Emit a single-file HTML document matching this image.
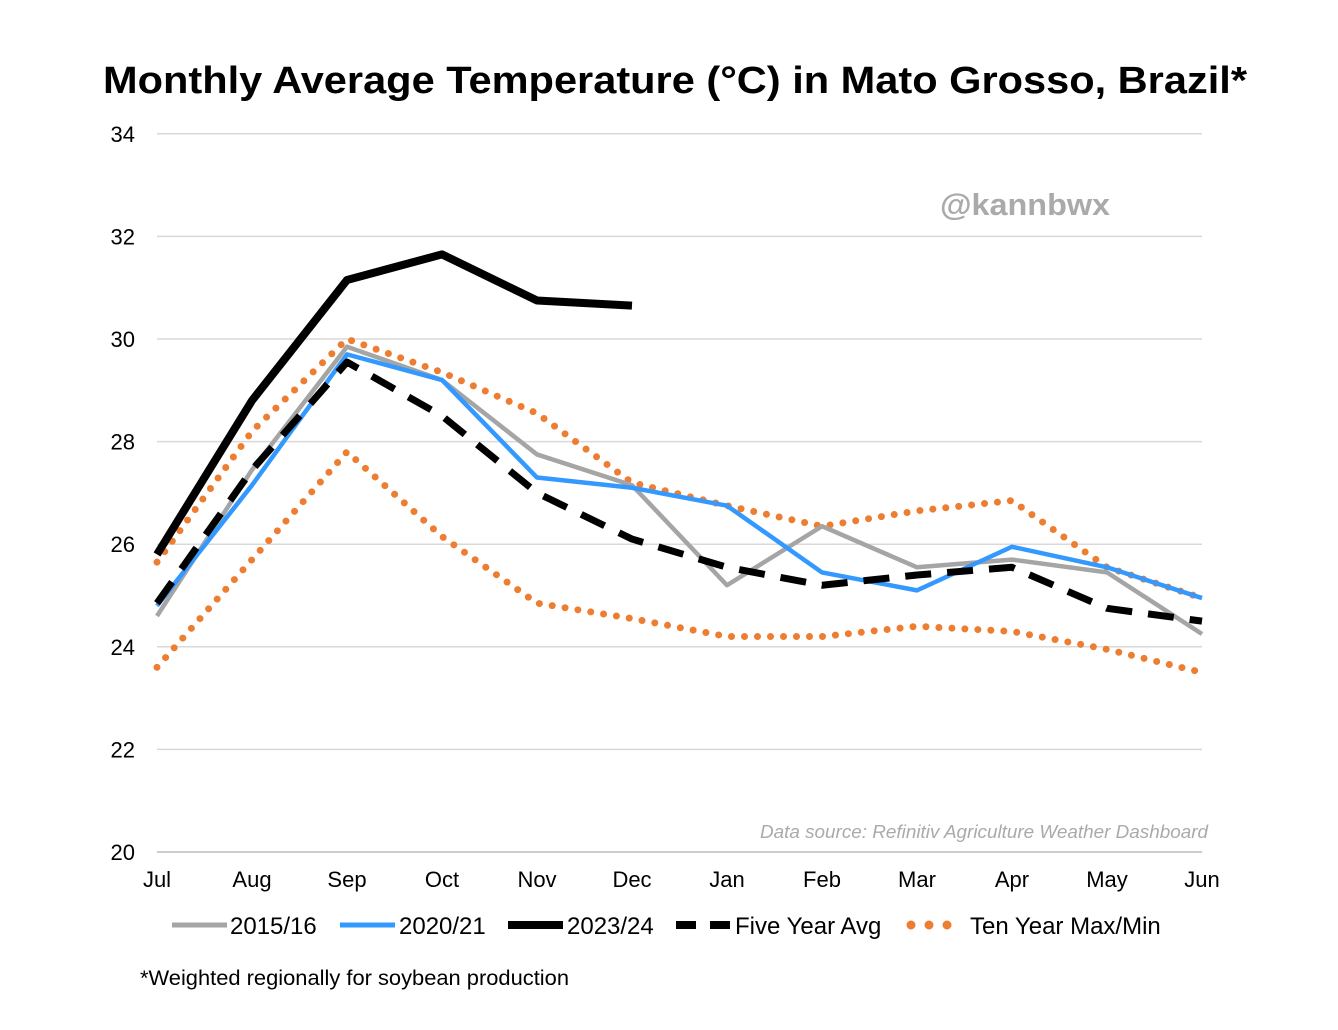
<!DOCTYPE html>
<html><head><meta charset="utf-8"><style>
body{margin:0;background:#fff;font-family:"Liberation Sans",Arial,sans-serif}
svg text{font-family:"Liberation Sans",Arial,sans-serif}
</style></head><body>
<svg id="chart" width="1338" height="1025" xmlns="http://www.w3.org/2000/svg">
<rect width="1338" height="1025" fill="#fff"/>
<text x="103" y="93" font-size="38" font-weight="bold" textLength="1144" lengthAdjust="spacingAndGlyphs">Monthly Average Temperature (°C) in Mato Grosso, Brazil*</text>
<text x="940" y="215" font-size="31" font-weight="bold" fill="#aaa" textLength="170" lengthAdjust="spacingAndGlyphs">@kannbwx</text>
<text x="760" y="838" font-size="18" font-style="italic" fill="#aaa" textLength="448" lengthAdjust="spacingAndGlyphs">Data source: Refinitiv Agriculture Weather Dashboard</text>
<text x="140" y="985" font-size="21" textLength="429" lengthAdjust="spacingAndGlyphs">*Weighted regionally  for soybean production</text>
<g id="grid"></g><g id="series"></g><g id="legend"></g>
</svg>
<script>
const months=["Jul","Aug","Sep","Oct","Nov","Dec","Jan","Feb","Mar","Apr","May","Jun"];
const yTicks=[20,22,24,26,28,30,32,34];
const s2015=[24.6,27.45,29.85,29.2,27.75,27.15,25.2,26.35,25.55,25.7,25.45,24.25];
const s2020=[24.8,27.15,29.7,29.2,27.3,27.1,26.75,25.45,25.1,25.95,25.55,24.95];
const s2023=[25.8,28.8,31.15,31.65,30.75,30.65];
const s5yr=[24.85,27.45,29.55,28.5,27.0,26.1,25.55,25.2,25.4,25.55,24.75,24.5];
const sMax=[25.65,28.2,30.0,29.35,28.55,27.2,26.75,26.35,26.65,26.85,25.55,24.95];
const sMin=[23.6,25.7,27.8,26.15,24.85,24.55,24.2,24.2,24.4,24.3,23.95,23.5];
const NS="http://www.w3.org/2000/svg";
const x=i=>157+i*95;
const y=v=>852-(v-20)*51.3;
function mk(tag,attrs,parent){const e=document.createElementNS(NS,tag);for(const k in attrs)e.setAttribute(k,attrs[k]);parent.appendChild(e);return e;}
const grid=document.getElementById('grid');
yTicks.forEach(t=>{
  const l=mk('line',{x1:157,x2:1202,y1:y(t),y2:y(t),stroke:t===20?'#bbb':'#d9d9d9','stroke-width':1.5},grid);
  
  
  const tx=mk('text',{x:135,y:y(t)+8,'text-anchor':'end','font-size':22},grid);tx.textContent=t;
  
  
});
months.forEach((m,i)=>{
  const tx=mk('text',{x:x(i),y:887,'text-anchor':'middle','font-size':22},grid);tx.textContent=m;
  
  
});
const ser=document.getElementById('series');
function line(data,attrs,name){
  const d=data.map((v,i)=>(i?'L':'M')+x(i)+','+y(v)).join('');
  const p=mk('path',Object.assign({d:d,fill:'none','stroke-linejoin':'round'},attrs),ser);
  
  
}
const dot={stroke:'#ed7d31','stroke-width':7,'stroke-linecap':'round','stroke-dasharray':'0 13'};
line(sMin,dot,'series-ten-year-min');
line(sMax,dot,'series-ten-year-max');
line(s2015,{stroke:'#a5a5a5','stroke-width':4.5},'series-2015-16');
line(s2020,{stroke:'#3399ff','stroke-width':4.5},'series-2020-21');
line(s5yr,{stroke:'#000','stroke-width':7,'stroke-dasharray':'26 16'},'series-five-year-avg');
line(s2023,{stroke:'#000','stroke-width':8},'series-2023-24');
const lg=document.getElementById('legend');
const items=[["2015/16",{stroke:'#a5a5a5','stroke-width':5},172,230],["2020/21",{stroke:'#3399ff','stroke-width':5},340,399],["2023/24",{stroke:'#000','stroke-width':8},508,567],["Five Year Avg",{stroke:'#000','stroke-width':8,'stroke-dasharray':'20 14'},676,735],["Ten Year Max/Min",{stroke:'#ed7d31','stroke-width':9,'stroke-linecap':'round','stroke-dasharray':'0 18'},911,970]];
items.forEach(it=>{
  const g=mk('g',{},lg);
  
  
  mk('line',Object.assign({x1:it[2],x2:it[2]+(it[0].startsWith('Ten')?45:55),y1:925,y2:925},it[1]),g);
  const t=mk('text',{x:it[3],y:934,'font-size':24},g);t.textContent=it[0];
});
</script>
</body></html>
